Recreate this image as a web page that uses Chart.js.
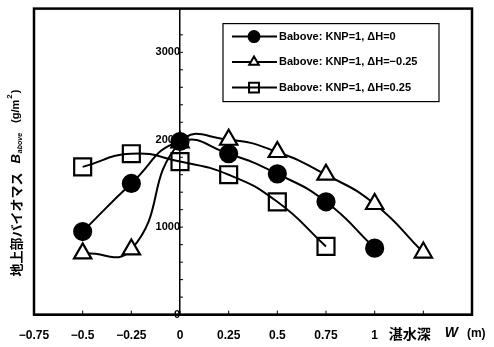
<!DOCTYPE html>
<html>
<head>
<meta charset="utf-8">
<script src="https://cdn.jsdelivr.net/npm/chart.js@4/dist/chart.umd.min.js"></script>
<style>
  html, body { margin: 0; padding: 0; background: #fff; overflow: hidden; }
  #wrap { width: 494px; height: 354px; margin-top: -7px; }
</style>
</head>
<body>
<div id="wrap"><canvas id="bioChart"></canvas></div>
<script>
/* water depth W (m) */
const depths = [-0.5, -0.25, 0, 0.25, 0.5, 0.75, 1.0, 1.25];

/* B_above (g/m2) */
const dhZero = [950, 1500, 1980, 1840, 1610, 1290, 760];
const dhMinus = [700, 745, 1970, 2000, 1860, 1600, 1265, 710];
const dhPlus = [1690, 1840, 1750, 1600, 1290, 780];

const seriesLabels = [
  "Babove: KNP=1, ΔH=0",
  "Babove: KNP=1, ΔH=−0.25",
  "Babove: KNP=1, ΔH=0.25",
];
const xTitle = ["湛水深", "W", "(m)"];
const yTitle = ["地上部バイオマス", "B", "above", "(g/m", "2", ")"];

const numFont = "'Liberation Sans', Arial, sans-serif";
const jpFont = "'Noto Sans CJK JP', sans-serif";

const toPoints = (vals) => vals.map((v, i) => ({ x: depths[i], y: v }));
const fmt = (v) => String(v).replace("-", "−");

/* marker shapes, shared by chart and legend */
const markers = [
  { style: "circle", radius: 8.5, fill: "#000" },
  { style: "triangle", radius: 10, fill: "#fff" },
  { style: "rect", radius: 12, fill: "rgba(0,0,0,0)" },
];

function drawMarker(ctx, m, x, y, r) {
  ctx.beginPath();
  if (m.style === "circle") {
    ctx.arc(x, y, r, 0, Math.PI * 2);
  } else if (m.style === "triangle") {
    ctx.moveTo(x, y - r);
    ctx.lineTo(x + r * 0.866, y + r * 0.5);
    ctx.lineTo(x - r * 0.866, y + r * 0.5);
    ctx.closePath();
  } else {
    const s = r * Math.SQRT1_2;
    ctx.rect(x - s, y - s, 2 * s, 2 * s);
  }
  ctx.fillStyle = m.fill;
  ctx.fill();
  ctx.stroke();
}

/* inside ticks, frame, legend and axis titles */
const extras = {
  id: "extras",
  beforeDatasetsDraw(chart) {
    const { ctx, chartArea: a, scales } = chart;
    const x0 = scales.x.getPixelForValue(0);
    ctx.save();
    ctx.strokeStyle = "#000";
    ctx.lineWidth = 1;
    ctx.beginPath();
    scales.x.ticks.forEach((t) => {
      const px = scales.x.getPixelForValue(t.value);
      if (px <= a.left + 1 || px >= a.right - 1) return;
      ctx.moveTo(px, a.bottom);
      ctx.lineTo(px, a.bottom - 4);
    });
    scales.y.ticks.forEach((t) => {
      const py = scales.y.getPixelForValue(t.value);
      ctx.moveTo(x0 - 1, py);
      ctx.lineTo(x0 + 3, py);
    });
    ctx.stroke();
    ctx.restore();
  },
  afterDraw(chart) {
    const { ctx, chartArea: a, scales } = chart;
    ctx.save();

    // frame
    ctx.strokeStyle = "#000";
    ctx.lineWidth = 2.5;
    ctx.strokeRect(a.left, a.top, a.right - a.left, a.bottom - a.top);

    // legend box
    const lx = a.left + 189, ly = a.top + 15, lw = 216, lh = 78;
    ctx.fillStyle = "#fff";
    ctx.fillRect(lx, ly, lw, lh);
    ctx.lineWidth = 1.2;
    ctx.strokeRect(lx, ly, lw, lh);
    ctx.font = "bold 11px " + numFont;
    ctx.textBaseline = "middle";
    ctx.textAlign = "left";
    seriesLabels.forEach((label, i) => {
      const y = ly + 13 + i * 25.5;
      ctx.lineWidth = 2;
      ctx.strokeStyle = "#000";
      ctx.beginPath();
      ctx.moveTo(lx + 9, y);
      ctx.lineTo(lx + 54, y);
      ctx.stroke();
      drawMarker(ctx, markers[i], lx + 31, y, markers[i].style === "rect" ? 7 : 5.5);
      ctx.fillStyle = "#000";
      ctx.fillText(label, lx + 56, y);
    });

    // x title
    const xs = scales.x;
    let tx = xs.getPixelForValue(1.0) + 14;
    const ty = a.bottom + 19;
    ctx.fillStyle = "#000";
    ctx.font = "bold 14px " + jpFont;
    ctx.fillText(xTitle[0], tx, ty);
    tx += ctx.measureText(xTitle[0]).width + 14;
    ctx.font = "italic bold 14px " + numFont;
    ctx.fillText(xTitle[1], tx, ty);
    tx += ctx.measureText(xTitle[1]).width + 9;
    ctx.font = "bold 12px " + numFont;
    ctx.fillText(xTitle[2], tx, ty);

    // y title (rotated)
    ctx.translate(16, a.bottom - 38);
    ctx.rotate(-Math.PI / 2);
    let px = 0;
    ctx.font = "bold 13px " + jpFont;
    ctx.fillText(yTitle[0], px, 0);
    px += ctx.measureText(yTitle[0]).width + 9;
    ctx.font = "italic bold 13px " + numFont;
    ctx.fillText(yTitle[1], px, 0);
    px += ctx.measureText(yTitle[1]).width + 1;
    ctx.font = "italic bold 7px " + numFont;
    ctx.fillText(yTitle[2], px, 4);
    px += ctx.measureText(yTitle[2]).width + 10;
    ctx.font = "bold 11px " + numFont;
    ctx.fillText(yTitle[3], px, 0);
    px += ctx.measureText(yTitle[3]).width + 1;
    ctx.font = "bold 8px " + numFont;
    ctx.fillText(yTitle[4], px, -6);
    px += ctx.measureText(yTitle[4]).width + 1;
    ctx.font = "bold 11px " + numFont;
    ctx.fillText(yTitle[5], px, 0);

    ctx.restore();
  },
};

const seriesData = [dhZero, dhMinus, dhPlus];

const bioChart = new Chart(document.getElementById("bioChart"), {
  type: "line",
  data: {
    datasets: seriesData.map((vals, i) => ({
      label: seriesLabels[i],
      data: toPoints(vals),
      borderColor: "#000",
      borderWidth: 2,
      tension: 0.5,
      clip: false,
      pointStyle: markers[i].style,
      pointRadius: markers[i].radius,
      pointBackgroundColor: markers[i].fill,
      pointBorderColor: "#000",
      pointBorderWidth: 2.2,
    })),
  },
  options: {
    responsive: true,
    maintainAspectRatio: false,
    animation: false,
    layout: { autoPadding: false, padding: { left: 34, right: 22, top: 8, bottom: -10 } },
    scales: {
      x: {
        type: "linear",
        min: -0.75,
        max: 1.5,
        grid: { drawOnChartArea: false, drawTicks: false },
        border: { color: "#000", width: 2 },
        ticks: {
          stepSize: 0.25,
          color: "#000",
          padding: 14,
          maxRotation: 0,
          font: { family: numFont, size: 12, weight: "bold" },
          callback: (v) => (v > 1 ? "" : fmt(v)),
        },
      },
      y: {
        type: "linear",
        min: 0,
        max: 3500,
        position: { x: 0 },
        grid: { drawOnChartArea: false, drawTicks: false },
        border: { color: "#000", width: 1.5 },
        ticks: {
          stepSize: 200,
          color: "#000",
          padding: 9,
          autoSkip: false,
          font: { family: numFont, size: 11, weight: "bold" },
          callback: (v) => (v % 1000 === 0 ? String(v) : ""),
        },
      },
    },
    plugins: {
      legend: { display: false },
      tooltip: { enabled: false },
    },
  },
  plugins: [extras],
});
</script>
</body>
</html>
